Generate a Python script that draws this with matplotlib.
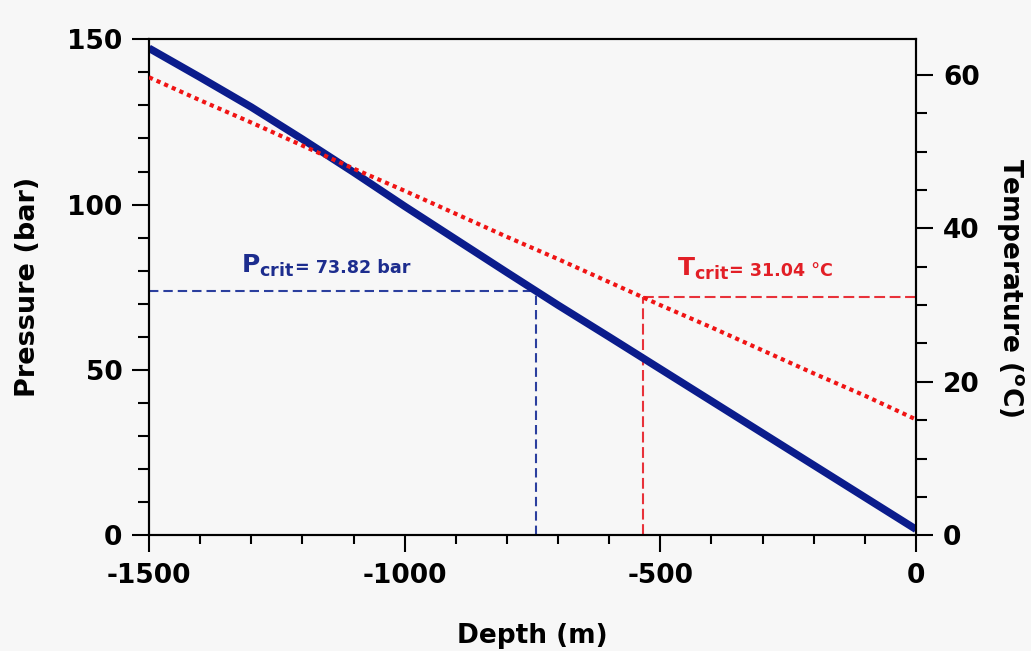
import numpy as np
import matplotlib
matplotlib.use("Agg")
import matplotlib.pyplot as plt
from matplotlib.ticker import MultipleLocator

# Depth profile (m below surface) with hydrostatic pressure and geothermal temperature
depth_m = [-1500, -1400, -1300, -1200, -1100, -1000, -900, -800,
           -700, -600, -500, -400, -300, -200, -100, 0]
pressure_bar = [147.3, 138.5, 129.5, 119.8, 109.8, 99.5, 89.5, 79.5,
                69.6, 60.0, 50.3, 40.6, 30.9, 21.2, 11.5, 1.8]
temperature_c = [59.7, 56.7, 53.8, 50.8, 47.8, 44.9, 41.9, 38.9,
                 36.0, 33.0, 30.0, 27.1, 24.1, 21.1, 18.2, 15.1]

# CO2 critical point
p_crit = 73.82
t_crit = 31.04

x_ticks = [-1500, -1000, -500, 0]
p_ticks = [0, 50, 100, 150]
t_ticks = [0, 20, 40, 60]

BG = "#f7f7f7"
BLUE_LINE = "#0b1c8c"
BLUE_DASH = "#2b3f9e"
BLUE_TEXT = "#1d2d8e"
RED_DOT = "#f01414"
RED_DASH = "#e8323a"
RED_TEXT = "#e21f26"

plt.rcParams.update({
    "font.family": ["DejaVu Sans"],
    "font.weight": "bold",
    "mathtext.fontset": "dejavusans",
    "axes.unicode_minus": False,
})

W, H = 1031, 651
fig = plt.figure(figsize=(W / 100, H / 100), dpi=100, facecolor=BG)
ax = fig.add_axes([149 / W, (H - 535.3) / H, 767 / W, 496 / H])
ax.set_facecolor(BG)
ax2 = ax.twinx()

d_arr = np.array(depth_m, dtype=float)
p_arr = np.array(pressure_bar, dtype=float)
t_arr = np.array(temperature_c, dtype=float)

# depths where the profiles reach the critical values
d_pcrit = float(np.interp(p_crit, p_arr[::-1], d_arr[::-1]))
d_tcrit = float(np.interp(t_crit, t_arr[::-1], d_arr[::-1]))

# pressure profile and its critical-point guides
ax.plot([depth_m[0], d_pcrit], [p_crit, p_crit], color=BLUE_DASH, lw=1.5,
        linestyle=(0, (4.5, 2.4)), zorder=2)
ax.plot([d_pcrit, d_pcrit], [0, p_crit], color=BLUE_DASH, lw=1.5,
        linestyle=(0, (4.5, 2.4)), zorder=2)

# temperature guides drawn beneath the pressure curve, in temperature units
ax.plot([d_tcrit, 0], [t_crit, t_crit], color=RED_DASH, lw=1.5,
        linestyle=(0, (5.2, 2.2)), transform=ax2.transData, zorder=2)
ax.plot([d_tcrit, d_tcrit], [0, t_crit], color=RED_DASH, lw=1.5,
        linestyle=(0, (5.2, 2.2)), transform=ax2.transData, zorder=2)

ax.plot(depth_m, pressure_bar, color=BLUE_LINE, lw=5.4,
        solid_capstyle="butt", solid_joinstyle="round", zorder=3)

# temperature profile
ax2.plot(depth_m, temperature_c, color=RED_DOT, lw=3.0,
         linestyle=(0, (1, 1)), dash_capstyle="butt", zorder=3)

# annotations
ax.text(-1321, 79.3, r"$\mathbf{P}_{\mathbf{crit}}$", fontsize=18,
        color=BLUE_TEXT, ha="left", va="baseline")
ax.text(-1214, 79.3, f"= {p_crit:.2f} bar", fontsize=12.6,
        color=BLUE_TEXT, ha="left", va="baseline", fontweight="bold")
ax2.text(-467, 33.8, r"$\mathbf{T}_{\mathbf{crit}}$", fontsize=18,
         color=RED_TEXT, ha="left", va="baseline")
ax2.text(-365, 33.8, f"= {t_crit:.2f} °C", fontsize=12.6,
         color=RED_TEXT, ha="left", va="baseline", fontweight="bold")

# axes limits and ticks
ax.set_xlim(-1500, 0)
ax.set_ylim(0, 150)
ax2.set_ylim(0, 64.65)

ax.set_xticks(x_ticks)
ax.set_xticklabels([str(v) for v in x_ticks])
ax.set_yticks(p_ticks)
ax.set_yticklabels([str(v) for v in p_ticks])
ax2.set_yticks(t_ticks)
ax2.set_yticklabels([str(v) for v in t_ticks])

ax.xaxis.set_minor_locator(MultipleLocator(100))
ax.yaxis.set_minor_locator(MultipleLocator(10))
ax2.yaxis.set_minor_locator(MultipleLocator(5))

ax.tick_params(axis="both", which="major", direction="out", length=12.5,
               width=1.5, labelsize=19, colors="black")
ax.tick_params(axis="y", which="major", pad=6.5)
ax.tick_params(axis="x", which="major", pad=7.5)
ax.tick_params(axis="y", which="minor", direction="out", length=7.7, width=1.5)
ax.tick_params(axis="x", which="minor", direction="out", length=6.5, width=1.5)
ax.tick_params(axis="y", which="both", right=False)
ax.tick_params(axis="x", which="both", top=False)

ax2.tick_params(axis="y", which="major", direction="out", length=12.5,
                width=1.5, labelsize=19, pad=7)
ax2.tick_params(axis="y", which="minor", direction="out", length=7.7, width=1.5)

for a in (ax, ax2):
    for s in a.spines.values():
        s.set_linewidth(1.5)
        s.set_color("black")
    for lab in a.get_xticklabels() + a.get_yticklabels():
        lab.set_fontweight("bold")

# axis titles
ax.set_xlabel("Depth (m)", fontsize=19, fontweight="bold", va="baseline")
ax.xaxis.set_label_coords(0.5, -0.2177)
ax.set_ylabel("Pressure (bar)", fontsize=19.5, fontweight="bold",
              va="baseline", rotation=90, rotation_mode="anchor")
ax.yaxis.set_label_coords(-0.1486, 0.5)
ax2.set_ylabel("Temperature ($^\\mathbf{o}$C)", fontsize=19, fontweight="bold",
               rotation=270, rotation_mode="anchor")
ax2.yaxis.label.set_verticalalignment("baseline")
ax2.yaxis.set_label_coords(1.1134, 0.5)

fig.savefig("out.png", dpi=100, facecolor=BG)
